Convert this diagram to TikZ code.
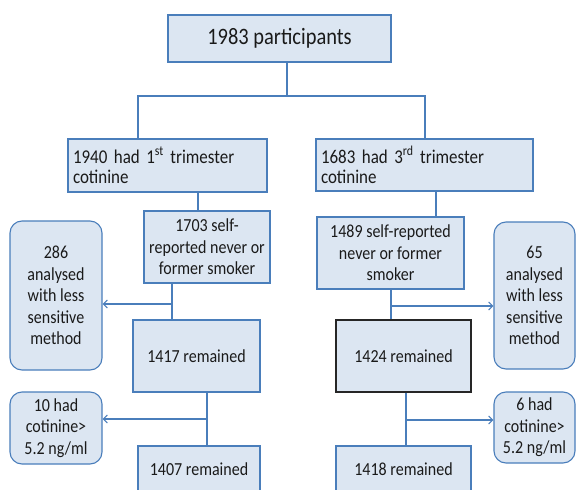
\documentclass[tikz,border=0pt]{standalone}
\usepackage{fontspec}
\setmainfont{Carlito}[FakeStretch=0.87]
\usepackage{tikz}
\usetikzlibrary{arrows.meta}
\definecolor{boxfill}{HTML}{DCE6F2}
\definecolor{boxline}{HTML}{4A7EBB}
\definecolor{boxtext}{HTML}{1A1A1A}

\begin{document}
\begin{tikzpicture}[x=1pt, y=-1pt,
    box/.style={draw=boxline, fill=boxfill, line width=1.1pt, text=boxtext, align=center, inner sep=2pt, font=\fontsize{18.4}{21.5}\selectfont},
    roundbox/.style={box, rounded corners=12pt},
    link/.style={draw=boxline, line width=1.1pt},
    arrowlink/.style={link, -{Straight Barb[length=4pt, width=8pt]}}]
	% Cornice
	\useasboundingbox (0,0) rectangle (576,490);
	\fill[white] (0,0) rectangle (576,490);
	\clip (0,0) rectangle (576,490);
	
	% Partecipanti e trimestri
	\node[box, minimum width=223pt, minimum height=47pt, font=\fontsize{23.5}{26}\selectfont] (top) at (279.5,38.5) {1983 participants};
	\node[box, align=left, text width=189pt, inner xsep=5pt, minimum height=53pt, font=\fontsize{19.5}{20.5}\selectfont] (first) at (167.5,165.5) {1940 had 1\textsuperscript{st} trimester\\cotinine};
	\node[box, align=left, text width=207pt, inner xsep=5pt, minimum height=52pt, font=\fontsize{19.5}{20.5}\selectfont] (third) at (424.5,165) {1683 had 3\textsuperscript{rd} trimester\\cotinine};
	
	% Non fumatori
	\node[box, minimum width=126pt, minimum height=72pt] (selfA) at (207,247) {1703 self-\\reported never or\\former smoker};
	\node[box, minimum width=147pt, minimum height=72pt] (selfB) at (390.5,253) {1489 self-reported\\never or former\\smoker};
	
	% Esclusi
	\node[roundbox, minimum width=92pt, minimum height=149pt] (lessA) at (56,295.5) {286\\analysed\\with less\\sensitive\\method};
	\node[roundbox, minimum width=81pt, minimum height=147pt] (lessB) at (534.5,295.5) {65\\analysed\\with less\\sensitive\\method};
	\node[roundbox, minimum width=92pt, minimum height=72pt] (highA) at (56,428) {10 had\\cotinine>\\5.2 ng/ml};
	\node[roundbox, minimum width=81pt, minimum height=71pt] (highB) at (534.5,427.5) {6 had\\cotinine>\\5.2 ng/ml};
	
	% Rimasti
	\node[box, minimum width=127pt, minimum height=72pt] (remA) at (196.5,356) {1417 remained};
	\node[box, draw=black!85, line width=1.5pt, minimum width=135pt, minimum height=72pt] (remB) at (403.5,356) {1424 remained};
	\node[box, minimum width=122pt, minimum height=46pt] (finA) at (199,469) {1407 remained};
	\node[box, minimum width=135pt, minimum height=46pt] (finB) at (403.5,469) {1418 remained};
	
	% Collegamenti in alto
	\coordinate (split) at (287,96);
	\coordinate (dropA) at (138,96);
	\coordinate (dropB) at (425,96);
	\draw[link] (top.south -| split) -- (split);
	\draw[link] (dropA |- first.north) -- (dropA) -- (dropB) -- (dropB |- third.north);
	
	% Ramo sinistro
	\coordinate (stemA) at (198,0);
	\coordinate (forkA) at (172,304);
	\coordinate (forkC) at (207,419);
	\draw[link] (stemA |- first.south) -- (stemA |- selfA.north);
	\draw[link] (forkA |- selfA.south) -- (forkA |- remA.north);
	\draw[arrowlink] (forkA) -- (forkA -| lessA.east);
	\draw[link] (forkC |- remA.south) -- (forkC |- finA.north);
	\draw[arrowlink] (forkC) -- (forkC -| highA.east);
	
	% Ramo destro
	\coordinate (stemB) at (436,0);
	\coordinate (forkB) at (391,306);
	\coordinate (forkD) at (406,420);
	\draw[link] (stemB |- third.south) -- (stemB |- selfB.north);
	\draw[link] (forkB |- selfB.south) -- (forkB |- remB.north);
	\draw[arrowlink] (forkB) -- (forkB -| lessB.west);
	\draw[link] (forkD |- remB.south) -- (forkD |- finB.north);
	\draw[arrowlink] (forkD) -- (forkD -| highB.west);
\end{tikzpicture}
\end{document}
